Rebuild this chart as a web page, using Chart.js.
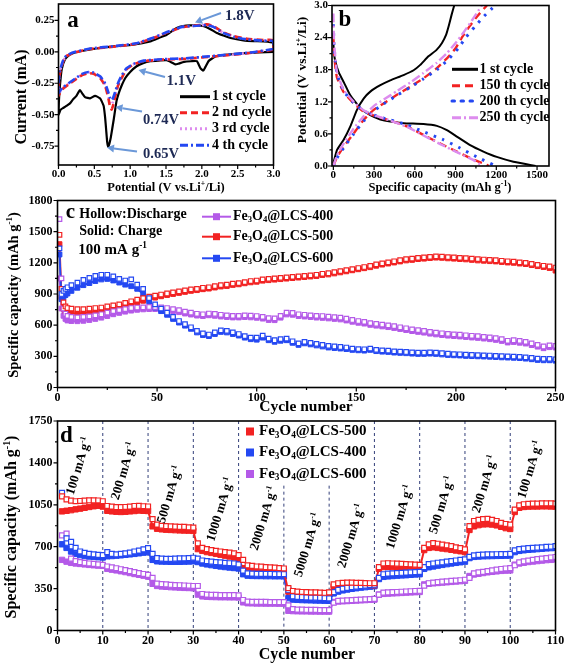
<!DOCTYPE html>
<html>
<head>
<meta charset="utf-8">
<script src="https://cdn.jsdelivr.net/npm/chart.js@4.4.1/dist/chart.umd.min.js"></script>
<style>
  html, body { margin: 0; padding: 0; background: #fff; width: 567px; height: 665px; overflow: hidden; position: relative; }
  canvas { position: absolute; left: -20px; top: -20px; }
</style>
</head>
<body>
<canvas id="chartA" width="607" height="705"></canvas>
<canvas id="chartB" width="607" height="705"></canvas>
<canvas id="chartC" width="607" height="705"></canvas>
<canvas id="chartD" width="607" height="705"></canvas>
<script>
'use strict';

// ******* Panel a : CV curves *******
let aXTicks = [0, 0.5, 1.0, 1.5, 2.0, 2.5, 3.0];
let aXLabels = ['0.0', '0.5', '1.0', '1.5', '2.0', '2.5', '3.0'];
let aYTicks = [0.25, 0, -0.25, -0.5, -0.75];
let aYLabels = ['0.25', '0.00', '-0.25', '-0.50', '-0.75'];
let aNames = ['1 st cycle', '2 nd cycle', '3 rd cycle', '4 th cycle'];

let a1x = [3.0, 2.6, 2.35, 2.2, 2.1, 2.05, 2.02, 1.98, 1.93, 1.85, 1.75, 1.67, 1.63, 1.58, 1.51, 1.4, 1.28, 1.18, 1.09, 1.0,
  0.93, 0.88, 0.84, 0.81, 0.77, 0.73, 0.71, 0.695, 0.68, 0.665, 0.65, 0.63, 0.6, 0.58, 0.51, 0.44, 0.37, 0.33, 0.30, 0.27,
  0.25, 0.2, 0.16, 0.11, 0.07, 0.03, 0.0,
  0.005, 0.02, 0.045, 0.09, 0.16, 0.3, 0.58, 0.8, 1.04, 1.28, 1.4, 1.51, 1.6, 1.65, 1.74, 1.84, 1.94, 2.03, 2.12, 2.21,
  2.3, 2.4, 2.58, 2.72, 2.86, 3.0, 3.0];
let a1y = [0.0, -0.01, -0.022, -0.035, -0.07, -0.12, -0.149, -0.13, -0.075, -0.075, -0.08, -0.095, -0.1, -0.085, -0.067, -0.07, -0.075, -0.09, -0.115, -0.16,
  -0.21, -0.27, -0.33, -0.39, -0.54, -0.68, -0.73, -0.755, -0.72, -0.62, -0.52, -0.43, -0.39, -0.37, -0.35, -0.37, -0.36, -0.33, -0.305, -0.33,
  -0.35, -0.38, -0.41, -0.43, -0.445, -0.46, -0.5,
  -0.4, -0.27, -0.14, -0.06, -0.022, 0.004, 0.03, 0.045, 0.057, 0.083, 0.11, 0.136, 0.17, 0.19, 0.205, 0.21, 0.21, 0.203, 0.18, 0.15,
  0.13, 0.11, 0.091, 0.085, 0.083, 0.07, 0.0];

// cycles 2-4 share the potential grid
let aLoopX = [3.0, 2.67, 2.2, 1.74, 1.47, 1.19, 1.05, 0.95, 0.88, 0.83, 0.79, 0.76, 0.74, 0.72, 0.70, 0.65, 0.58, 0.49, 0.42, 0.33,
  0.24, 0.14, 0.07, 0.02, 0.0,
  0.005, 0.02, 0.06, 0.11, 0.21, 0.44, 0.81, 1.09, 1.33, 1.56, 1.74, 1.93, 2.07, 2.16, 2.3, 2.44, 2.63, 2.86, 3.0, 3.0];
let a2y = [0.017, -0.01, -0.035, -0.057, -0.062, -0.075, -0.10, -0.14, -0.21, -0.27, -0.36, -0.43, -0.46, -0.44, -0.38, -0.27, -0.21, -0.175, -0.17, -0.185,
  -0.22, -0.26, -0.29, -0.33, -0.35,
  -0.25, -0.17, -0.085, -0.036, -0.009, 0.022, 0.043, 0.064, 0.11, 0.163, 0.197, 0.21, 0.218, 0.205, 0.155, 0.125, 0.104, 0.094, 0.092, 0.02];
let a3y = [0.02, -0.008, -0.033, -0.055, -0.06, -0.073, -0.098, -0.135, -0.2, -0.26, -0.34, -0.40, -0.42, -0.41, -0.36, -0.26, -0.2, -0.17, -0.165, -0.18,
  -0.215, -0.255, -0.285, -0.32, -0.34,
  -0.24, -0.16, -0.08, -0.033, -0.006, 0.024, 0.045, 0.066, 0.112, 0.165, 0.198, 0.208, 0.214, 0.2, 0.152, 0.122, 0.1, 0.09, 0.088, 0.02];
let a4y = [0.022, -0.006, -0.031, -0.053, -0.058, -0.07, -0.095, -0.13, -0.19, -0.25, -0.32, -0.37, -0.385, -0.37, -0.33, -0.25, -0.195, -0.165, -0.16, -0.175,
  -0.21, -0.25, -0.28, -0.31, -0.33,
  -0.22, -0.15, -0.075, -0.03, -0.004, 0.026, 0.047, 0.068, 0.114, 0.167, 0.2, 0.207, 0.212, 0.198, 0.15, 0.12, 0.098, 0.088, 0.086, 0.025];

// ******* Panel b : charge / discharge profiles *******
let bXTicks = [0, 300, 600, 900, 1200, 1500];
let bXLabels = ['0', '300', '600', '900', '1200', '1500'];
let bYTicks = [0, 0.6, 1.2, 1.8, 2.4, 3.0];
let bYLabels = ['0.0', '0.6', '1.2', '1.8', '2.4', '3.0'];
let bNames = ['1 st cycle', '150 th cycle', '200 th cycle', '250 th cycle'];

let b1DisX = [0, 5, 15, 40, 80, 125, 200, 272, 346, 419, 517, 664, 762, 836, 909, 1007, 1105, 1203, 1326, 1449, 1490];
let b1DisY = [2.3, 2.1, 1.95, 1.75, 1.55, 1.32, 1.08, 0.95, 0.87, 0.83, 0.80, 0.785, 0.75, 0.67, 0.55, 0.39, 0.27, 0.17, 0.08, 0.02, 0];
let b1ChgX = [0, 27, 76, 125, 174, 223, 272, 346, 419, 517, 591, 640, 700, 760, 800, 830, 850, 870, 890];
let b1ChgY = [0.05, 0.30, 0.49, 0.74, 1.05, 1.26, 1.39, 1.51, 1.60, 1.70, 1.79, 1.89, 2.05, 2.17, 2.3, 2.45, 2.62, 2.82, 3.0];

let b150DisX = [0, 5, 15, 27, 76, 150, 223, 321, 419, 542, 664, 787, 909, 1032, 1130, 1145];
let b150DisY = [2.45, 2.1, 1.85, 1.65, 1.38, 1.17, 1.02, 0.92, 0.85, 0.74, 0.58, 0.42, 0.27, 0.12, 0.02, 0];
let b150ChgX = [0, 27, 76, 150, 223, 297, 370, 468, 566, 664, 762, 850, 900, 946, 1000, 1060, 1130];
let b150ChgY = [0, 0.17, 0.36, 0.61, 0.86, 1.05, 1.17, 1.33, 1.48, 1.64, 1.83, 2.05, 2.2, 2.4, 2.6, 2.8, 3.0];

let b200DisX = [0, 5, 15, 27, 76, 150, 223, 321, 419, 542, 664, 811, 922, 1056, 1179, 1190];
let b200DisY = [2.65, 2.25, 1.95, 1.72, 1.4, 1.18, 1.03, 0.93, 0.86, 0.77, 0.64, 0.49, 0.35, 0.17, 0.02, 0];
let b200ChgX = [0, 27, 76, 150, 223, 297, 370, 468, 566, 664, 762, 850, 920, 975, 1040, 1110, 1190];
let b200ChgY = [0, 0.15, 0.34, 0.6, 0.84, 1.03, 1.16, 1.32, 1.47, 1.63, 1.8, 2.0, 2.2, 2.4, 2.6, 2.8, 3.0];

let b250DisX = [0, 4, 12, 27, 76, 150, 223, 321, 419, 542, 664, 787, 909, 1032, 1100];
let b250DisY = [2.85, 2.4, 2.1, 1.75, 1.42, 1.2, 1.04, 0.93, 0.85, 0.73, 0.57, 0.41, 0.26, 0.11, 0];
let b250ChgX = [0, 27, 76, 150, 223, 297, 370, 468, 566, 664, 762, 840, 900, 960, 1020, 1093];
let b250ChgY = [0, 0.2, 0.42, 0.7, 0.93, 1.12, 1.24, 1.4, 1.56, 1.74, 1.93, 2.12, 2.3, 2.5, 2.72, 3.0];

// ******* Panel c : cycling at 100 mA/g *******
let cXTicks = [0, 50, 100, 150, 200, 250];
let cYTicks = [0, 300, 600, 900, 1200, 1500, 1800];
let cNames = ['Fe_{3}O_{4}@LCS-400', 'Fe_{3}O_{4}@LCS-500', 'Fe_{3}O_{4}@LCS-600'];
let cCycles = [1, 2, 3, 4, 5,
  7, 10, 13, 16, 19, 22, 25, 28, 31, 34,
  37, 40, 43, 46, 49, 52, 55, 58, 61, 64,
  67, 70, 73, 76, 79, 82, 85, 88, 91, 94,
  97, 100, 103, 106, 109, 112, 115, 118, 121, 124,
  127, 130, 133, 136, 139, 142, 145, 148, 151, 154,
  157, 160, 163, 166, 169, 172, 175, 178, 181, 184,
  187, 190, 193, 196, 199, 202, 205, 208, 211, 214,
  217, 220, 223, 226, 229, 232, 235, 238, 241, 244,
  247, 250];

let c400Dis = [1620, 1050, 760, 710, 690,
  680, 675, 680, 685, 695, 705, 720, 735, 745, 755,
  765, 770, 772, 775, 775, 772, 765, 755, 745, 730,
  720, 710, 705, 712, 708, 700, 695, 690, 690, 695,
  692, 688, 680, 668, 665, 690, 720, 718, 705, 700,
  695, 690, 688, 682, 678, 672, 662, 650, 640, 632,
  620, 612, 605, 598, 590, 580, 570, 560, 552, 545,
  535, 528, 522, 516, 512, 508, 503, 498, 494, 488,
  482, 475, 465, 450, 455, 448, 440, 425, 410, 395,
  405, 400];
let c400Chg = [1050, 760, 690, 660, 645,
  640, 638, 642, 650, 660, 672, 688, 705, 718, 730,
  740, 748, 752, 755, 755, 752, 745, 735, 725, 712,
  702, 692, 688, 695, 690, 683, 678, 674, 674, 678,
  675, 671, 663, 650, 648, 672, 703, 700, 688, 683,
  678, 673, 670, 665, 660, 655, 645, 633, 623, 615,
  603, 595, 588, 581, 573, 563, 553, 543, 535, 528,
  518, 511, 505, 499, 495, 491, 486, 481, 477, 471,
  465, 458, 448, 433, 438, 431, 423, 408, 393, 378,
  388, 385];
let c500Dis = [1470, 950, 820, 780, 765,
  760, 755, 755, 760, 765, 770, 780, 790, 800, 815,
  830, 845, 860, 875, 885, 895, 905, 915, 925, 935,
  945, 950, 960, 965, 975, 985, 990, 1000, 1005, 1015,
  1025, 1030, 1040, 1045, 1050, 1055, 1060, 1065, 1070, 1075,
  1080, 1085, 1095, 1100, 1110, 1120, 1130, 1140, 1150, 1160,
  1170, 1185, 1195, 1205, 1215, 1225, 1235, 1240, 1248, 1252,
  1258, 1262, 1260, 1255, 1252, 1248, 1245, 1240, 1235, 1232,
  1228, 1225, 1220, 1215, 1212, 1205, 1200, 1190, 1180, 1172,
  1165, 1155];
let c500Chg = [1380, 870, 760, 730, 720,
  715, 715, 718, 722, 728, 735, 745, 757, 770, 785,
  800, 818, 835, 850, 865, 878, 890, 900, 910, 920,
  930, 937, 946, 952, 962, 972, 977, 987, 993, 1003,
  1012, 1018, 1028, 1033, 1038, 1043, 1048, 1053, 1058, 1063,
  1068, 1073, 1083, 1088, 1098, 1108, 1118, 1128, 1138, 1148,
  1158, 1172, 1183, 1193, 1203, 1213, 1223, 1228, 1236, 1240,
  1246, 1250, 1248, 1243, 1240, 1236, 1233, 1228, 1223, 1220,
  1216, 1213, 1208, 1203, 1200, 1193, 1188, 1178, 1168, 1160,
  1150, 1125];
let c600Dis = [1340, 900, 930, 950, 965,
  985, 1010, 1035, 1055, 1075, 1085, 1085, 1070, 1045, 1030,
  1040, 990, 950, 860, 800, 760, 720, 680, 640, 610,
  580, 545, 520, 510, 530, 550, 545, 530, 515, 495,
  480, 480, 500, 470, 455, 465, 470, 445, 425, 440,
  430, 420, 410, 400, 395, 390, 385, 375, 370, 368,
  375, 362, 358, 355, 348, 345, 342, 338, 335, 335,
  338, 335, 330, 325, 322, 320, 316, 314, 312, 310,
  308, 305, 302, 300, 298, 295, 290, 285, 278, 275,
  275, 272];
let c600Chg = [1280, 850, 870, 890, 905,
  930, 960, 985, 1005, 1025, 1040, 1045, 1030, 1010, 990,
  975, 950, 900, 830, 770, 735, 700, 660, 625, 595,
  565, 530, 505, 495, 515, 535, 530, 515, 500, 480,
  465, 460, 480, 455, 440, 450, 455, 430, 410, 425,
  415, 405, 395, 385, 380, 375, 370, 362, 358, 355,
  362, 350, 345, 342, 336, 333, 330, 326, 323, 323,
  326, 323, 318, 313, 310, 308, 304, 302, 300, 298,
  296, 293, 290, 288, 286, 283, 278, 272, 265, 262,
  262, 258];

// ******* Panel d : rate performance *******
let dXTicks = [0, 10, 20, 30, 40, 50, 60, 70, 80, 90, 100, 110];
let dYTicks = [0, 350, 700, 1050, 1400, 1750];
let dNames = ['Fe_{3}O_{4}@LCS-500', 'Fe_{3}O_{4}@LCS-400', 'Fe_{3}O_{4}@LCS-600'];
let dRates = ['100', '200', '500', '1000', '2000', '5000', '2000', '1000', '500', '200', '100'];
let dSteps = [10, 20, 30, 40, 50, 60, 70, 80, 90, 100];
let dCycles = [];
for (let i = 1; i <= 110; i++) dCycles.push(i);

let d500Dis = [1120, 1095, 1085, 1080, 1082, 1085, 1088, 1088, 1086, 1080,
  1040, 1035, 1030, 1030, 1032, 1035, 1040, 1042, 1038, 1036,
  930, 885, 875, 872, 870, 868, 866, 865, 862, 860,
  728, 690, 680, 672, 665, 660, 655, 650, 645, 630,
  590, 545, 540, 535, 533, 530, 528, 525, 522, 518,
  355, 330, 325, 322, 320, 318, 318, 316, 315, 318,
  385, 395, 398, 400, 400, 398, 398, 396, 395, 395,
  530, 560, 562, 560, 558, 556, 555, 553, 550, 548,
  690, 720, 730, 725, 718, 712, 705, 695, 688, 678,
  872, 915, 925, 930, 932, 925, 915, 900, 890, 884,
  1010, 1045, 1055, 1058, 1060, 1060, 1062, 1062, 1062, 1060];
let d500Chg = [995, 1000, 1005, 1012, 1018, 1025, 1032, 1038, 1042, 1035,
  1000, 995, 992, 990, 992, 995, 998, 1002, 1000, 998,
  870, 850, 845, 842, 840, 838, 836, 835, 834, 832,
  680, 665, 655, 648, 640, 633, 625, 618, 610, 590,
  520, 508, 505, 503, 502, 500, 500, 498, 497, 495,
  325, 312, 310, 308, 306, 305, 305, 304, 303, 305,
  370, 378, 380, 382, 382, 381, 380, 380, 379, 378,
  515, 530, 532, 530, 528, 527, 526, 525, 523, 520,
  672, 690, 695, 690, 685, 680, 674, 668, 662, 655,
  840, 870, 880, 886, 888, 885, 878, 866, 855, 848,
  990, 1025, 1032, 1035, 1036, 1036, 1037, 1037, 1036, 1035];
let d400Dis = [1150, 770, 740, 690, 660, 648, 640, 636, 632, 630,
  655, 640, 636, 640, 645, 650, 660, 668, 678, 688,
  640, 605, 600, 598, 598, 600, 602, 603, 605, 608,
  600, 585, 580, 575, 572, 570, 565, 562, 560, 552,
  500, 478, 475, 474, 473, 472, 472, 471, 470, 470,
  340, 285, 280, 278, 276, 275, 274, 272, 270, 268,
  320, 340, 350, 356, 362, 366, 370, 374, 378, 382,
  440, 470, 475, 478, 480, 482, 484, 486, 488, 490,
  530, 555, 560, 566, 570, 575, 580, 585, 590, 595,
  615, 628, 632, 634, 636, 636, 637, 638, 638, 640,
  670, 680, 684, 688, 690, 692, 695, 698, 700, 705];
let d400Chg = [720, 690, 660, 640, 630, 622, 618, 615, 612, 610,
  620, 622, 625, 628, 632, 636, 640, 645, 650, 655,
  590, 578, 576, 575, 574, 574, 574, 575, 576, 578,
  572, 560, 552, 546, 540, 535, 530, 526, 522, 518,
  470, 458, 456, 455, 455, 454, 454, 453, 453, 452,
  270, 258, 256, 254, 253, 252, 251, 250, 249, 248,
  310, 325, 335, 342, 348, 353, 358, 362, 366, 370,
  430, 448, 452, 455, 458, 460, 462, 465, 468, 470,
  515, 528, 535, 542, 548, 554, 560, 565, 570, 575,
  605, 615, 618, 620, 621, 622, 623, 624, 625, 626,
  655, 665, 670, 674, 677, 680, 683, 686, 688, 690];
let d600Dis = [795, 810, 600, 580, 572, 565, 560, 556, 552, 548,
  535, 528, 520, 512, 505, 496, 488, 480, 472, 465,
  440, 392, 388, 385, 382, 380, 378, 376, 374, 372,
  372, 305, 300, 298, 297, 296, 296, 295, 295, 294,
  255, 242, 240, 240, 239, 239, 238, 238, 238, 238,
  210, 178, 175, 174, 173, 172, 172, 171, 171, 170,
  232, 248, 250, 252, 254, 256, 258, 260, 262, 264,
  300, 316, 318, 320, 322, 324, 326, 328, 330, 332,
  375, 395, 400, 404, 408, 411, 414, 417, 420, 424,
  440, 478, 485, 490, 496, 502, 508, 514, 518, 522,
  545, 570, 578, 584, 590, 596, 600, 605, 610, 614];
let d600Chg = [590, 575, 565, 560, 556, 552, 548, 545, 542, 540,
  515, 508, 502, 495, 488, 480, 472, 465, 458, 450,
  390, 372, 368, 365, 362, 360, 358, 356, 355, 353,
  300, 285, 282, 280, 279, 278, 278, 277, 277, 276,
  235, 228, 227, 226, 226, 225, 225, 225, 224, 224,
  165, 162, 161, 160, 160, 159, 159, 158, 158, 158,
  238, 242, 244, 246, 248, 250, 252, 254, 256, 258,
  300, 306, 308, 310, 312, 314, 316, 318, 320, 322,
  385, 390, 394, 397, 400, 403, 406, 409, 412, 415,
  455, 468, 474, 480, 486, 490, 494, 498, 500, 502,
  550, 560, 566, 572, 576, 580, 584, 588, 590, 594];


//**** Colours & helpers ****
const OFF = 20;   // canvases are shifted by this much so labels never crowd the edge
const FONT = "'Liberation Serif', 'Times New Roman', serif";
const RED = '#f22222';
const BLUE = '#2448f2';
const PURPLE = '#b45ae8';
const PINK = '#dd8cee';

function pts(xs, ys) {
  return xs.map((x, i) => ({x: x, y: ys[i]}));
}

// text with _{sub} and ^{sup} runs
function drawRich(ctx, str, x, y, size, align, rot, color) {
  let runs = [];
  let re = /([_^])\{([^}]*)\}/g;
  let last = 0, m;
  while ((m = re.exec(str))) {
    if (m.index > last) runs.push({t: str.slice(last, m.index), k: ''});
    runs.push({t: m[2], k: m[1]});
    last = re.lastIndex;
  }
  if (last < str.length) runs.push({t: str.slice(last), k: ''});
  ctx.save();
  ctx.translate(x + OFF, y + OFF);
  if (rot) ctx.rotate(rot * Math.PI / 180);
  ctx.fillStyle = color || '#000';
  ctx.textBaseline = 'middle';
  ctx.textAlign = 'left';
  let w = 0;
  runs.forEach(r => {
    r.s = r.k ? size * 0.62 : size;
    ctx.font = 'bold ' + r.s + 'px ' + FONT;
    r.w = ctx.measureText(r.t).width;
    w += r.w;
  });
  let cx = align === 'center' ? -w / 2 : (align === 'right' ? -w : 0);
  runs.forEach(r => {
    ctx.font = 'bold ' + r.s + 'px ' + FONT;
    let dy = r.k === '^' ? -size * 0.3 : (r.k === '_' ? size * 0.25 : 0);
    ctx.fillText(r.t, cx, dy);
    cx += r.w;
  });
  ctx.restore();
}

function line(ctx, x1, y1, x2, y2, color, width, dash) {
  ctx.save();
  ctx.strokeStyle = color;
  ctx.lineWidth = width;
  ctx.setLineDash(dash || []);
  ctx.beginPath();
  ctx.moveTo(x1 + OFF, y1 + OFF);
  ctx.lineTo(x2 + OFF, y2 + OFF);
  ctx.stroke();
  ctx.restore();
}

function arrow(ctx, x1, y1, x2, y2) {
  let col = '#6b98d8';
  let ang = Math.atan2(y2 - y1, x2 - x1);
  let hx = x2 - 7 * Math.cos(ang), hy = y2 - 7 * Math.sin(ang);
  line(ctx, x1, y1, hx, hy, col, 2);
  ctx.save();
  ctx.fillStyle = col;
  ctx.beginPath();
  ctx.moveTo(x2 + OFF, y2 + OFF);
  ctx.lineTo(hx + 4 * Math.sin(ang) + OFF, hy - 4 * Math.cos(ang) + OFF);
  ctx.lineTo(hx - 4 * Math.sin(ang) + OFF, hy + 4 * Math.cos(ang) + OFF);
  ctx.closePath();
  ctx.fill();
  ctx.restore();
}

function square(ctx, x, y, side, color, hollow) {
  ctx.save();
  if (hollow) {
    ctx.fillStyle = '#fff';
    ctx.strokeStyle = color;
    ctx.lineWidth = 1.3;
    ctx.fillRect(x - side / 2 + OFF, y - side / 2 + OFF, side, side);
    ctx.strokeRect(x - side / 2 + OFF, y - side / 2 + OFF, side, side);
  } else {
    ctx.fillStyle = color;
    ctx.fillRect(x - side / 2 + OFF, y - side / 2 + OFF, side, side);
  }
  ctx.restore();
}

// frame round the plot plus outward major/minor ticks
const framePlugin = {
  id: 'frame',
  afterDraw(chart) {
    const ctx = chart.ctx, a = chart.chartArea;
    ctx.save();
    ctx.strokeStyle = '#000';
    ctx.lineWidth = 1.6;
    ctx.strokeRect(a.left, a.top, a.right - a.left, a.bottom - a.top);
    ctx.lineWidth = 1.2;
    ctx.beginPath();
    const xs = chart.scales.x, ys = chart.scales.y;
    const xt = xs.ticks.map(t => t.value);
    xt.forEach((v, i) => {
      let p = xs.getPixelForValue(v);
      ctx.moveTo(p, a.bottom); ctx.lineTo(p, a.bottom + 4);
      if (i < xt.length - 1) {
        let q = xs.getPixelForValue((v + xt[i + 1]) / 2);
        ctx.moveTo(q, a.bottom); ctx.lineTo(q, a.bottom + 2.5);
      }
    });
    const yt = ys.ticks.map(t => t.value);
    yt.forEach((v, i) => {
      let p = ys.getPixelForValue(v);
      ctx.moveTo(a.left, p); ctx.lineTo(a.left - 4, p);
      if (i < yt.length - 1) {
        let q = ys.getPixelForValue((v + yt[i + 1]) / 2);
        ctx.moveTo(a.left, q); ctx.lineTo(a.left - 2.5, q);
      }
    });
    ctx.stroke();
    ctx.restore();
  }
};

function axis(o, dir, size) {
  return {
    type: 'linear', min: o.min, max: o.max,
    grid: {display: false, drawTicks: false},
    border: {display: false},
    title: {display: false},
    ticks: {
      autoSkip: false, maxRotation: 0, padding: o.pad, color: '#000',
      font: {family: FONT, weight: 'bold', size: o.font},
      callback: (v, i) => o.labels[i]
    },
    afterBuildTicks: s => { s.ticks = o.ticks.map(v => ({value: v})); },
    afterFit: s => { if (dir === 'x') s.height = size; else s.width = size; }
  };
}

// box = plot area in page pixels
function makeChart(id, box, xOpt, yOpt, datasets, decor) {
  return new Chart(document.getElementById(id), {
    type: 'scatter',
    data: {datasets: datasets},
    options: {
      responsive: false, animation: false, events: [],
      layout: {padding: {left: 0, top: box.t + OFF, right: 607 - (box.r + OFF), bottom: 705 - (box.b + OFF) - 24}},
      plugins: {legend: {display: false}, tooltip: {enabled: false}},
      scales: {
        x: axis(xOpt, 'x', 24),
        y: axis(yOpt, 'y', box.l + OFF)
      }
    },
    plugins: [framePlugin, decor]
  });
}

function curve(data, color, width, dash, order) {
  return {data: data, showLine: true, borderColor: color, borderWidth: width, borderDash: dash,
    pointRadius: 0, tension: 0.15, fill: false, order: order, borderCapStyle: 'butt'};
}

function marks(data, color, hollow, r, order) {
  return {
    data: data, showLine: !hollow, borderColor: color, borderWidth: 2,
    pointStyle: 'rect', pointRadius: r,
    pointBackgroundColor: hollow ? '#fff' : color, pointBorderColor: color,
    pointBorderWidth: hollow ? 1.2 : 1, order: order
  };
}


//******* Panel a *******
let aStyles = [
  {c: '#000', w: 2.2, d: []},
  {c: RED, w: 2.6, d: [7, 4]},
  {c: PINK, w: 2.6, d: [2, 3]},
  {c: BLUE, w: 2.6, d: [8, 3, 2, 3]}
];
makeChart('chartA', {l: 58.5, r: 273.5, t: 4, b: 165},
  {min: 0, max: 3.0, ticks: aXTicks, labels: aXLabels, pad: 3, font: 11},
  {min: -0.9, max: 0.38, ticks: aYTicks, labels: aYLabels, pad: 4, font: 11},
  [
    curve(pts(a1x, a1y), aStyles[0].c, aStyles[0].w, aStyles[0].d, 3),
    curve(pts(aLoopX, a2y), aStyles[1].c, aStyles[1].w, aStyles[1].d, 1),
    curve(pts(aLoopX, a3y), aStyles[2].c, aStyles[2].w, aStyles[2].d, 2),
    curve(pts(aLoopX, a4y), aStyles[3].c, aStyles[3].w, aStyles[3].d, 0)
  ],
  {
    id: 'decorA',
    afterDraw(chart) {
      const ctx = chart.ctx;
      drawRich(ctx, 'a', 73, 21, 23, 'center');
      arrow(ctx, 221, 13, 195, 22.5);
      arrow(ctx, 165, 77, 138.5, 70);
      arrow(ctx, 142, 111.5, 115.5, 107);
      arrow(ctx, 137, 151.5, 107, 147.5);
      const tc = '#1e2a55';
      drawRich(ctx, '1.8V', 225, 16, 15, 'left', 0, tc);
      drawRich(ctx, '1.1V', 166.5, 81.5, 15, 'left', 0, tc);
      drawRich(ctx, '0.74V', 143, 120, 14.5, 'left', 0, tc);
      drawRich(ctx, '0.65V', 143, 154, 14.5, 'left', 0, tc);
      let rows = [96.7, 112.7, 128.7, 145.3];
      aNames.forEach((n, i) => {
        line(ctx, 180, rows[i], 210, rows[i], aStyles[i].c, 3, aStyles[i].d);
        drawRich(ctx, n, 212, rows[i], 14, 'left');
      });
      drawRich(ctx, 'Current (mA)', 21.5, 97, 16, 'center', -90);
      drawRich(ctx, 'Potential (V vs.Li^{+}/Li)', 166, 187.5, 12.5, 'center');
    }
  });

//******* Panel b *******
let bStyles = [
  {c: '#000', w: 2, d: []},
  {c: RED, w: 2.4, d: [8, 5]},
  {c: BLUE, w: 3, d: [2.5, 6.5]},
  {c: PINK, w: 2.4, d: [9, 3, 2, 3]}
];
let bPairs = [[b1DisX, b1DisY, b1ChgX, b1ChgY], [b150DisX, b150DisY, b150ChgX, b150ChgY],
  [b200DisX, b200DisY, b200ChgX, b200ChgY], [b250DisX, b250DisY, b250ChgX, b250ChgY]];
let bSets = [];
bPairs.forEach((p, i) => {
  let s = bStyles[i];
  bSets.push(curve(pts(p[0], p[1]), s.c, s.w, s.d, 4 - i));
  bSets.push(curve(pts(p[2], p[3]), s.c, s.w, s.d, 4 - i));
});
makeChart('chartB', {l: 332, r: 549, t: 5.5, b: 166},
  {min: -10, max: 1588, ticks: bXTicks, labels: bXLabels, pad: 3, font: 11},
  {min: 0, max: 3.0, ticks: bYTicks, labels: bYLabels, pad: 4, font: 11},
  bSets,
  {
    id: 'decorB',
    afterDraw(chart) {
      const ctx = chart.ctx;
      drawRich(ctx, 'b', 345, 20, 23, 'center');
      let rows = [69.3, 85.7, 101, 117.7];
      bNames.forEach((n, i) => {
        ctx.save();
        ctx.lineCap = i === 2 ? 'round' : 'butt';
        line(ctx, 452, rows[i], 478, rows[i], bStyles[i].c, 3, bStyles[i].d);
        ctx.restore();
        drawRich(ctx, n, 479.5, rows[i], 14, 'left');
      });
      drawRich(ctx, 'Potential (V vs.Li^{+}/Li)', 303, 80, 13.5, 'center', -90);
      drawRich(ctx, 'Specific capacity (mAh g^{-1})', 440, 187.5, 12.5, 'center');
    }
  });

//******* Panel c *******
let cColors = [PURPLE, RED, BLUE];
makeChart('chartC', {l: 57.5, r: 555.5, t: 200.5, b: 387.5},
  {min: 0, max: 250, ticks: cXTicks, labels: cXTicks.map(String), pad: 3, font: 12},
  {min: 0, max: 1800, ticks: cYTicks, labels: cYTicks.map(String), pad: 5, font: 12},
  [
    marks(pts(cCycles, c600Dis), BLUE, true, 3.2, 0),
    marks(pts(cCycles, c500Dis), RED, true, 3.2, 1),
    marks(pts(cCycles, c400Dis), PURPLE, true, 3.2, 2),
    marks(pts(cCycles, c600Chg), BLUE, false, 3.4, 3),
    marks(pts(cCycles, c500Chg), RED, false, 3.4, 4),
    marks(pts(cCycles, c400Chg), PURPLE, false, 3.4, 5)
  ],
  {
    id: 'decorC',
    afterDraw(chart) {
      const ctx = chart.ctx;
      drawRich(ctx, 'c', 70.5, 212.5, 21, 'center');
      drawRich(ctx, 'Hollow:Discharge', 79.3, 214.5, 14, 'left');
      drawRich(ctx, 'Solid: Charge', 79.3, 231, 14, 'left');
      drawRich(ctx, '100 mA g^{-1}', 78.3, 250.5, 15, 'left');
      let rows = [216.7, 236.7, 258.3];
      cNames.forEach((n, i) => {
        line(ctx, 202, rows[i], 231, rows[i], cColors[i], 2);
        square(ctx, 216.5, rows[i], 7, cColors[i], false);
        drawRich(ctx, n, 233, rows[i], 14, 'left');
      });
      drawRich(ctx, 'Specific capacity (mAh g^{-1})', 14, 295, 14.5, 'center', -90);
      drawRich(ctx, 'Cycle number', 306, 406.5, 15.5, 'center');
    }
  });

//******* Panel d *******
let dColors = [RED, BLUE, PURPLE];
let dRatePos = [[79, 466], [124, 471], [170, 494.5], [220.5, 509.5], [264, 518.5], [308, 545],
  [351.5, 536], [400, 517], [442, 505], [485, 484], [530.5, 469.5]];
makeChart('chartD', {l: 57.5, r: 555.5, t: 421, b: 630.5},
  {min: 0, max: 110, ticks: dXTicks, labels: dXTicks.map(String), pad: 3, font: 12},
  {min: 0, max: 1750, ticks: dYTicks, labels: dYTicks.map(String), pad: 5, font: 12},
  [
    marks(pts(dCycles, d500Dis), RED, true, 3.5, 0),
    marks(pts(dCycles, d400Dis), BLUE, true, 3.5, 1),
    marks(pts(dCycles, d600Dis), PURPLE, true, 3.5, 2),
    marks(pts(dCycles, d500Chg), RED, false, 3.8, 3),
    marks(pts(dCycles, d400Chg), BLUE, false, 3.8, 4),
    marks(pts(dCycles, d600Chg), PURPLE, false, 3.8, 5)
  ],
  {
    id: 'decorD',
    beforeDatasetsDraw(chart) {
      const ctx = chart.ctx, xs = chart.scales.x, ys = chart.scales.y;
      dSteps.forEach(c => {
        let px = xs.getPixelForValue(c) - OFF;
        let top = (c === 50 || c === 60) ? ys.getPixelForValue(1210) - OFF : ys.getPixelForValue(1750) - OFF;
        line(ctx, px, top, px, ys.getPixelForValue(0) - OFF, '#34407a', 1, [3, 3]);
      });
    },
    afterDraw(chart) {
      const ctx = chart.ctx;
      drawRich(ctx, 'd', 66.5, 436, 23, 'center');
      dRates.forEach((r, i) => {
        drawRich(ctx, r + ' mA g^{-1}', dRatePos[i][0], dRatePos[i][1], 13, 'center', -73);
      });
      let rows = [431.5, 452.5, 474];
      dNames.forEach((n, i) => {
        square(ctx, 250, rows[i], 8, dColors[i], false);
        drawRich(ctx, n, 259, rows[i], 15, 'left');
      });
      drawRich(ctx, 'Specific capacity (mAh g^{-1})', 12, 527, 16, 'center', -90);
      drawRich(ctx, 'Cycle number', 307, 655, 16, 'center');
    }
  });
</script>
</body>
</html>
